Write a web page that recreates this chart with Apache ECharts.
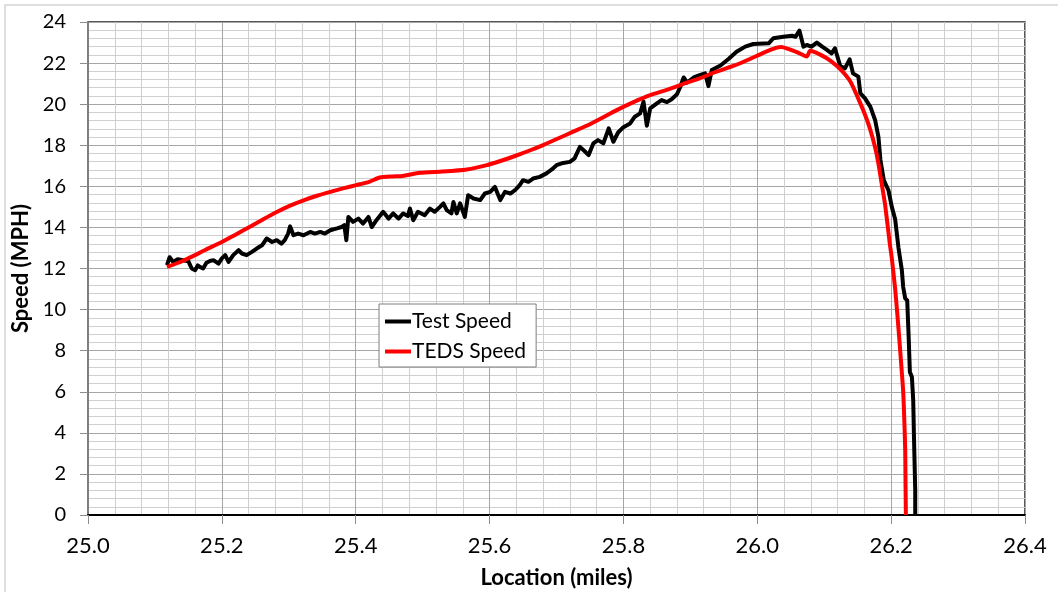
<!DOCTYPE html>
<html>
<head>
<meta charset="utf-8">
<script src="https://cdn.jsdelivr.net/npm/echarts@6/dist/echarts.min.js"></script>
<style>
  html, body { margin: 0; padding: 0; background: #fff; }
  #chart { width: 1058px; height: 592px; }
</style>
</head>
<body>
<div id="chart"></div>
<script>
// Measured train speed along the track (miles, MPH)
const testLocation = [
  25.118, 25.122, 25.127, 25.134, 25.142, 25.150, 25.155, 25.160, 25.164, 25.167,
  25.172, 25.177, 25.183, 25.188, 25.195, 25.200, 25.205, 25.210, 25.217, 25.225,
  25.230, 25.237, 25.245, 25.252, 25.260, 25.267, 25.275, 25.282, 25.289, 25.294,
  25.299, 25.302, 25.307, 25.314, 25.322, 25.332, 25.339, 25.347, 25.354, 25.362,
  25.372, 25.379, 25.383, 25.386, 25.389, 25.396, 25.404, 25.411, 25.419, 25.424,
  25.431, 25.441, 25.449, 25.456, 25.464, 25.471, 25.478, 25.481, 25.486, 25.493,
  25.503, 25.511, 25.518, 25.526, 25.531, 25.536, 25.543, 25.546, 25.551, 25.556,
  25.563, 25.568, 25.576, 25.586, 25.593, 25.601, 25.608, 25.616, 25.623, 25.631,
  25.638, 25.645, 25.650, 25.658, 25.665, 25.675, 25.685, 25.693, 25.700, 25.710,
  25.720, 25.727, 25.735, 25.743, 25.748, 25.755, 25.762, 25.770, 25.778, 25.785,
  25.792, 25.800, 25.810, 25.817, 25.825, 25.830, 25.835, 25.840, 25.850, 25.857,
  25.865, 25.872, 25.880, 25.885, 25.890, 25.895, 25.905, 25.915, 25.922, 25.927,
  25.932, 25.945, 25.957, 25.969, 25.982, 25.994, 26.017, 26.024, 26.039, 26.052,
  26.057, 26.063, 26.069, 26.074, 26.081, 26.089, 26.097, 26.104, 26.111, 26.116,
  26.124, 26.131, 26.138, 26.143, 26.151, 26.154, 26.161, 26.169, 26.176, 26.181,
  26.184, 26.189, 26.196, 26.201, 26.206, 26.211, 26.216, 26.218, 26.221, 26.224,
  26.226, 26.228, 26.231, 26.233, 26.234, 26.236, 26.236
];
const testSpeed = [
  12.16, 12.55, 12.32, 12.45, 12.40, 12.35, 12.00, 11.92, 12.15, 12.08,
  12.00, 12.28, 12.38, 12.40, 12.24, 12.49, 12.65, 12.32, 12.65, 12.89,
  12.73, 12.65, 12.81, 12.97, 13.13, 13.46, 13.29, 13.38, 13.21, 13.38,
  13.70, 14.05, 13.62, 13.70, 13.62, 13.78, 13.70, 13.78, 13.70, 13.86,
  13.95, 14.02, 14.11, 13.38, 14.51, 14.27, 14.43, 14.19, 14.51, 14.02,
  14.35, 14.76, 14.43, 14.68, 14.43, 14.68, 14.55, 14.92, 14.35, 14.76,
  14.59, 14.92, 14.76, 15.00, 15.17, 14.84, 14.68, 15.24, 14.68, 15.17,
  14.51, 15.57, 15.41, 15.33, 15.65, 15.73, 15.97, 15.33, 15.73, 15.65,
  15.81, 16.06, 16.30, 16.22, 16.38, 16.46, 16.63, 16.82, 17.03, 17.14,
  17.19, 17.36, 17.92, 17.68, 17.52, 18.09, 18.25, 18.09, 18.82, 18.17,
  18.62, 18.88, 19.06, 19.39, 19.55, 20.12, 18.95, 19.80, 20.04, 20.20,
  20.10, 20.24, 20.48, 20.85, 21.30, 21.05, 21.30, 21.42, 21.50, 20.88,
  21.66, 21.88, 22.20, 22.55, 22.80, 22.93, 22.96, 23.21, 23.28, 23.33,
  23.28, 23.58, 22.80, 22.88, 22.80, 23.00, 22.80, 22.64, 22.47, 22.72,
  21.85, 21.74, 22.18, 21.50, 21.34, 20.53, 20.28, 19.87, 19.23, 18.41,
  17.28, 16.30, 15.81, 15.00, 14.40, 13.00, 11.92, 11.10, 10.55, 10.45,
  8.83, 6.96, 6.72, 5.58, 3.96, 1.19, 0
];

// Simulated (TEDS) speed profile
const tedsLocation = [
  25.118, 25.135, 25.152, 25.175, 25.200, 25.221, 25.242, 25.262, 25.282, 25.302,
  25.322, 25.342, 25.362, 25.381, 25.401, 25.420, 25.436, 25.455, 25.470, 25.496,
  25.530, 25.566, 25.596, 25.615, 25.635, 25.658, 25.680, 25.703, 25.725, 25.745,
  25.765, 25.790, 25.815, 25.840, 25.865, 25.889, 25.914, 25.939, 25.964, 25.989,
  26.009, 26.029, 26.036, 26.045, 26.060, 26.074, 26.079, 26.094, 26.110, 26.124,
  26.139, 26.154, 26.162, 26.169, 26.176, 26.181, 26.186, 26.191, 26.198, 26.201,
  26.206, 26.210, 26.214, 26.218, 26.220, 26.221, 26.2215, 26.222
];
const tedsSpeed = [
  12.08, 12.28, 12.53, 12.90, 13.29, 13.66, 14.03, 14.40, 14.75, 15.06,
  15.32, 15.54, 15.73, 15.90, 16.06, 16.22, 16.43, 16.48, 16.50, 16.66,
  16.72, 16.82, 17.03, 17.22, 17.44, 17.72, 18.01, 18.34, 18.66, 18.95,
  19.28, 19.71, 20.10, 20.44, 20.70, 20.98, 21.26, 21.58, 21.86, 22.20,
  22.50, 22.75, 22.78, 22.70, 22.52, 22.32, 22.60, 22.41, 22.10, 21.70,
  21.10, 20.04, 19.40, 18.74, 17.90, 17.11, 16.10, 15.10, 13.20, 12.50,
  11.00, 9.48, 7.80, 6.00, 4.30, 3.14, 1.50, 0
];

const seriesNames = ['Test Speed', 'TEDS Speed'];
const xTitle = 'Location (miles)';
const yTitle = 'Speed (MPH)';

const pair = (xs, ys) => xs.map((x, i) => [x, ys[i]]);

const FONT = 'Lato, "Open Sans", sans-serif';
const chart = echarts.init(document.getElementById('chart'), null, { renderer: 'canvas' });

chart.setOption({
  animation: false,
  backgroundColor: '#ffffff',
  graphic: [{
    type: 'rect',
    shape: { x: 5, y: 5, width: 1070, height: 610 },
    style: { fill: 'none', stroke: '#d4d4d4', lineWidth: 1.5 },
    silent: true
  }],
  grid: {
    left: 88, right: 33, top: 22, bottom: 77,
    outerBoundsMode: 'none',
    containLabel: false,
    show: true, borderColor: '#222', borderWidth: 1.5, backgroundColor: 'transparent'
  },
  legend: {
    data: seriesNames,
    orient: 'vertical',
    left: 379, top: 304,
    padding: [7, 10, 5, 6],
    itemGap: 9,
    itemWidth: 26, itemHeight: 4,
    icon: 'rect',
    borderColor: '#7f7f7f', borderWidth: 1,
    backgroundColor: '#fff',
    textStyle: { fontFamily: FONT, fontSize: 21, color: '#000', padding: [0, 0, 0, -4] }
  },
  xAxis: {
    type: 'value',
    min: 25.0, max: 26.4, interval: 0.2,
    name: xTitle, nameLocation: 'middle', nameGap: 52,
    nameTextStyle: { fontFamily: FONT, fontSize: 22, fontWeight: 'bold', color: '#000' },
    axisLine: { show: true, onZero: false, lineStyle: { color: '#000', width: 2 } },
    axisTick: { show: true, inside: false, length: 9, lineStyle: { color: '#8c8c8c' } },
    axisLabel: { fontFamily: FONT, fontSize: 22, color: '#000', margin: 20,
      formatter: v => v.toFixed(1) },
    splitLine: { show: true, lineStyle: { color: '#a6a6a6', width: 1 } },
    minorTick: { show: false, splitNumber: 5 },
    minorSplitLine: { show: true, lineStyle: { color: '#cfcfcf', width: 1 } }
  },
  yAxis: {
    type: 'value',
    min: 0, max: 24, interval: 2,
    name: yTitle, nameLocation: 'middle', nameGap: 54,
    nameTextStyle: { fontFamily: FONT, fontSize: 22, fontWeight: 'bold', color: '#000' },
    axisLine: { show: true, lineStyle: { color: '#7f7f7f', width: 2 } },
    axisTick: { show: true, inside: false, length: 8, lineStyle: { color: '#8c8c8c' } },
    axisLabel: { fontFamily: FONT, fontSize: 20, color: '#000', margin: 22 },
    splitLine: { show: true, lineStyle: { color: '#a6a6a6', width: 1 } },
    minorTick: { show: false, splitNumber: 5 },
    minorSplitLine: { show: true, lineStyle: { color: '#cfcfcf', width: 1 } }
  },
  series: [
    {
      name: seriesNames[0],
      type: 'line',
      data: pair(testLocation, testSpeed),
      showSymbol: false,
      symbol: 'none',
      color: '#000000',
      lineStyle: { color: '#000000', width: 4, join: 'round' },
      z: 2
    },
    {
      name: seriesNames[1],
      type: 'line',
      data: pair(tedsLocation, tedsSpeed),
      showSymbol: false,
      symbol: 'none',
      smooth: 0.2,
      color: '#ff0000',
      lineStyle: { color: '#ff0000', width: 4, join: 'round' },
      z: 3
    }
  ]
});
</script>
</body>
</html>
